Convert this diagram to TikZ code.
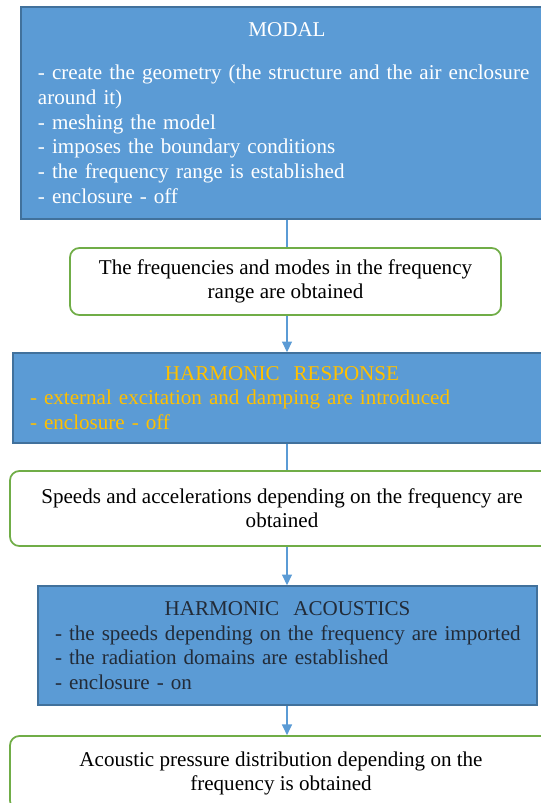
\documentclass[tikz,border=0pt]{standalone}
\usepackage{fontspec}
\setmainfont{Liberation Serif}
\usetikzlibrary{arrows.meta}

\definecolor{stagefill}{HTML}{5B9BD5}
\definecolor{stageedge}{HTML}{41719C}
\definecolor{resultedge}{HTML}{70AD47}
\definecolor{flowblue}{HTML}{5B9BD5}
\definecolor{titlegold}{HTML}{FFC000}
\definecolor{darktext}{HTML}{222B38}

\tikzset{
	stagebox/.style={draw=stageedge, fill=stagefill, line width=1.2pt, align=left,
		inner sep=0pt, font=\fontsize{15.8}{18.5}\selectfont},
	resultbox/.style={draw=resultedge, fill=white, line width=1.3pt, rounded corners=7pt,
		align=center, inner sep=0pt, font=\fontsize{15.8}{18}\selectfont},
	flowline/.style={draw=flowblue, line width=0.8pt},
	flowarrow/.style={flowline, -{Triangle[width=7.5pt, length=8pt]}}
}

\begin{document}
\begin{tikzpicture}[x=0.75pt, y=-0.75pt]

	\useasboundingbox (0,0) rectangle (540,803);

	% stage boxes are 532, 538 and 499 px wide
	\node (modal) [stagebox, text width=399pt, minimum height=159pt,
		text=white] at (287,113)
		{{\centering MODAL\par}\vspace{14pt}\leftskip=12.75pt
		- create the geometry (the structure and the air enclosure\\
		around it)\\
		- meshing the model\\
		- imposes the boundary conditions\\
		- the frequency range is established\\
		- enclosure - off\par};
	\node (modes) [resultbox, minimum width=323.25pt, minimum height=50.25pt] at (285.5,281.5)
		{The frequencies and modes in the frequency\\ range are obtained};

	\node (response) [stagebox, text width=403.5pt, minimum height=67.5pt,
		text=titlegold] at (282,398)
		{{\centering HARMONIC\ \ RESPONSE\par}\leftskip=12.75pt
		- external excitation and damping are introduced\\
		- enclosure - off\par};
	\node (speeds) [resultbox, minimum width=408pt, minimum height=56.25pt] at (282,508.5)
		{Speeds and accelerations depending on the frequency are\\ obtained};

	\node (acoustics) [stagebox, text width=374.25pt, minimum height=89.25pt,
		text=darktext] at (287.5,645.5)
		{{\centering HARMONIC\ \ ACOUSTICS\par}\leftskip=12.75pt
		- the speeds depending on the frequency are imported\\
		- the radiation domains are established\\
		- enclosure - on\par};
	\node (pressure) [resultbox, minimum width=406.5pt, minimum height=55.5pt] at (281,773)
		{Acoustic pressure distribution depending on the\\ frequency is obtained};

	\path[flowline] (modal.south -| 287,0) -- (287,0 |- modes.north);
	\path[flowarrow] (287,0 |- modes.south) -- (287,0 |- response.north);
	\path[flowline] (287,0 |- response.south) -- (287,0 |- speeds.north);
	\path[flowarrow] (287,0 |- speeds.south) -- (287,0 |- acoustics.north);
	\path[flowarrow] (acoustics.south -| 287,0) -- (287,0 |- pressure.north);

\end{tikzpicture}
\end{document}
